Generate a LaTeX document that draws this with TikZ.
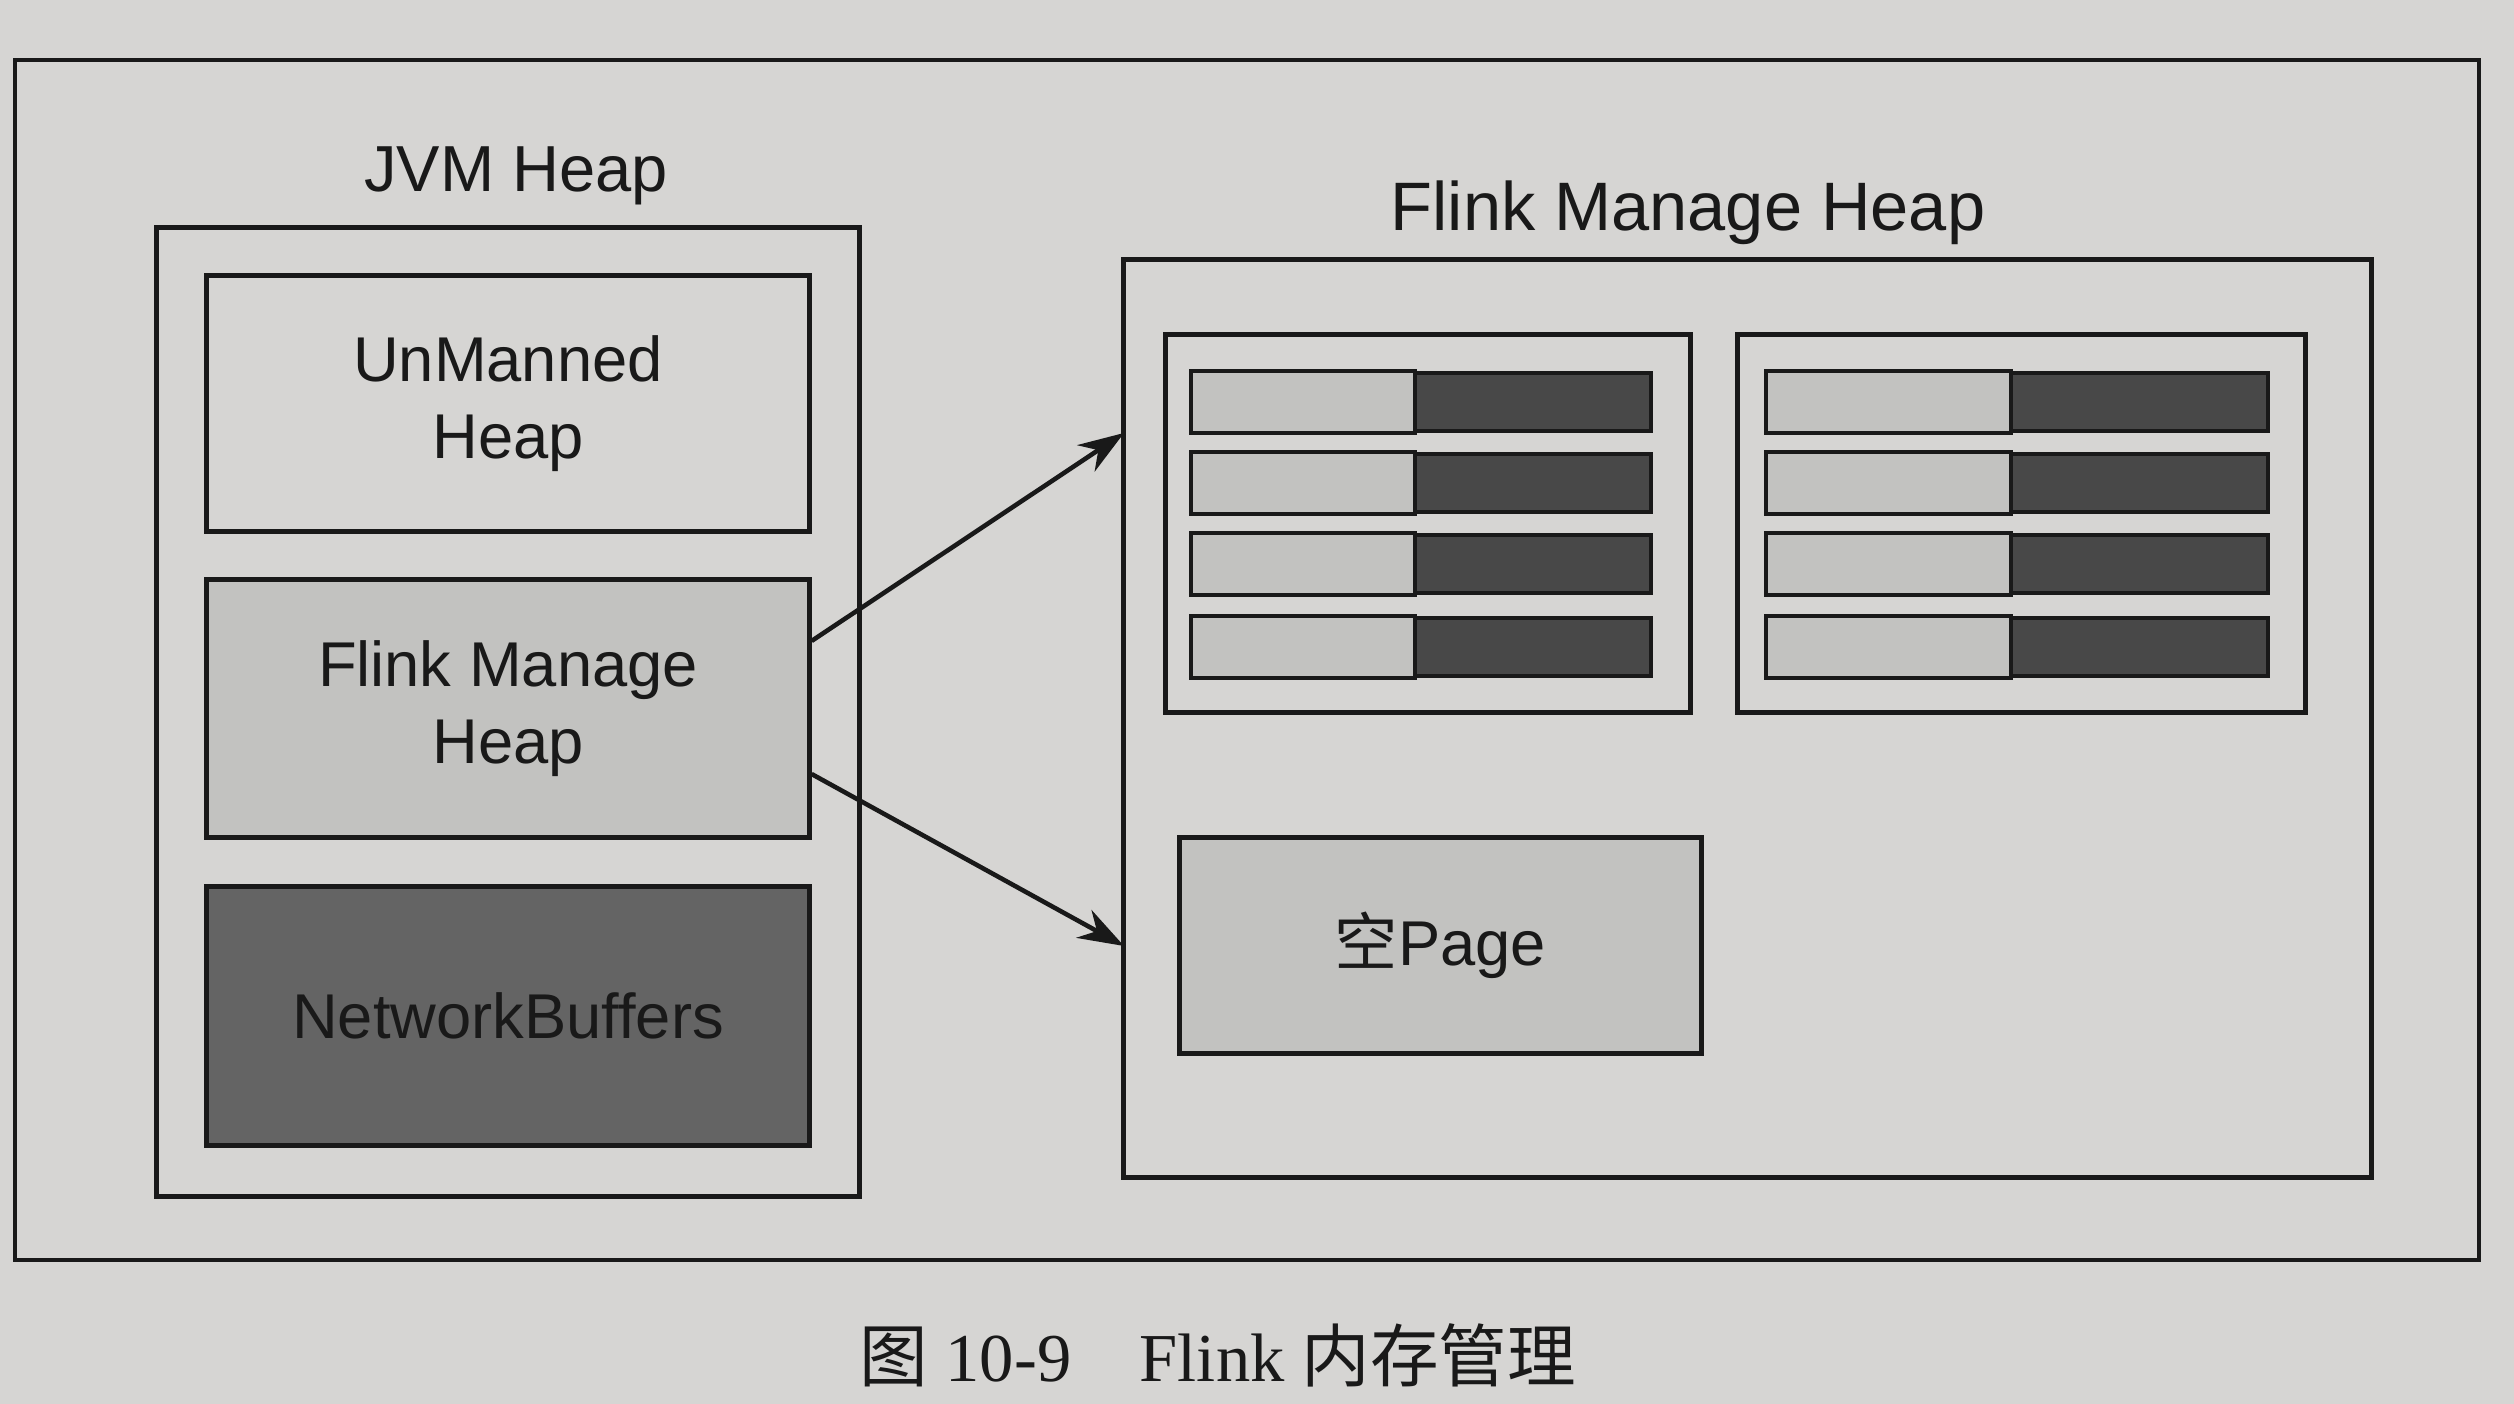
\documentclass[tikz,border=0pt]{standalone}
\usepackage{fontspec}
\setmainfont{Liberation Sans}
\newfontfamily\cjk{Noto Sans CJK SC}
\newfontfamily\capserif{Liberation Serif}
\usetikzlibrary{arrows.meta}
\definecolor{paper}{RGB}{214,213,211}
\definecolor{ink}{RGB}{25,25,25}
\definecolor{lightfill}{RGB}{194,194,192}
\definecolor{darkfill}{RGB}{100,100,100}
\definecolor{bardark}{RGB}{72,72,72}
\begin{document}
\begin{tikzpicture}[x=0.01cm,y=-0.01cm,
  box/.style={draw=ink, line width=1.4pt, inner sep=0pt, align=center, text=ink,
    font=\fontsize{18}{22}\selectfont},
  title/.style={text=ink, inner sep=0pt},
  barbox/.style={draw=ink, line width=1.2pt, fill=bardark, inner sep=0pt, minimum height=0.58cm},
  lightpart/.style={draw=ink, line width=1.2pt, fill=lightfill},
  arr/.style={draw=ink, line width=1.3pt, -{Stealth[length=13pt,width=9pt]}}]
\fill[paper] (0,0) rectangle (2514,1404);
\useasboundingbox (0,0) rectangle (2514,1404);

% outer frame
\node[box, line width=1.2pt, minimum width=24.62cm, minimum height=12cm] (outer) at (1247,660) {};

% left: JVM heap
\node[title, font=\fontsize{18.5}{22}\selectfont] (jvmtitle) at (516,176) {JVM Heap};
\node[box, minimum width=7.02cm, minimum height=9.68cm] (jvm) at (508,712) {};
\node[box, minimum width=6.02cm, minimum height=2.55cm] (unm) at (508,403.5) {UnManned\\Heap};
\node[box, fill=lightfill, minimum width=6.02cm, minimum height=2.57cm] (fmh) at (508,708.5) {Flink Manage\\Heap};
\node[box, fill=darkfill, minimum width=6.02cm, minimum height=2.58cm] (nb) at (508,1016) {NetworkBuffers};

% right: Flink managed heap
\node[title, font=\fontsize{19.5}{23}\selectfont] (rtitle) at (1688,213) {Flink Manage Heap};
\node[box, minimum width=12.47cm, minimum height=9.17cm] (rbox) at (1747.5,718.5) {};
\node[box, minimum width=5.24cm, minimum height=3.77cm] (g1) at (1428,523.5) {};
\node[box, minimum width=5.67cm, minimum height=3.77cm] (g2) at (2021.5,523.5) {};

\foreach \i/\y in {1/402,2/483,3/564,4/647}{
  \node[barbox, minimum width=4.58cm] (a\i) at (1422,\y) {};
  \path[lightpart] (a\i.north west) rectangle ([xshift=2.24cm]a\i.south west);
  \node[barbox, minimum width=5.0cm] (b\i) at (2018,\y) {};
  \path[lightpart] (b\i.north west) rectangle ([xshift=2.45cm]b\i.south west);
}

\node[box, fill=lightfill, minimum width=5.21cm, minimum height=2.15cm] (page) at (1440.5,945.5) {{\cjk 空}Page};

% arrows
\coordinate (t1) at (1124,433);
\coordinate (t2) at (1124,946);
\draw[arr] ([yshift=0.675cm]fmh.east) -- (t1);
\draw[arr] ([yshift=-0.655cm]fmh.east) -- (t2);

% caption
\node[title, font=\capserif\fontsize{19.5}{24}\selectfont] (cap) at (1218,1355) {{\cjk 图} 10-9\quad Flink {\cjk 内存管理}};
\end{tikzpicture}
\end{document}
